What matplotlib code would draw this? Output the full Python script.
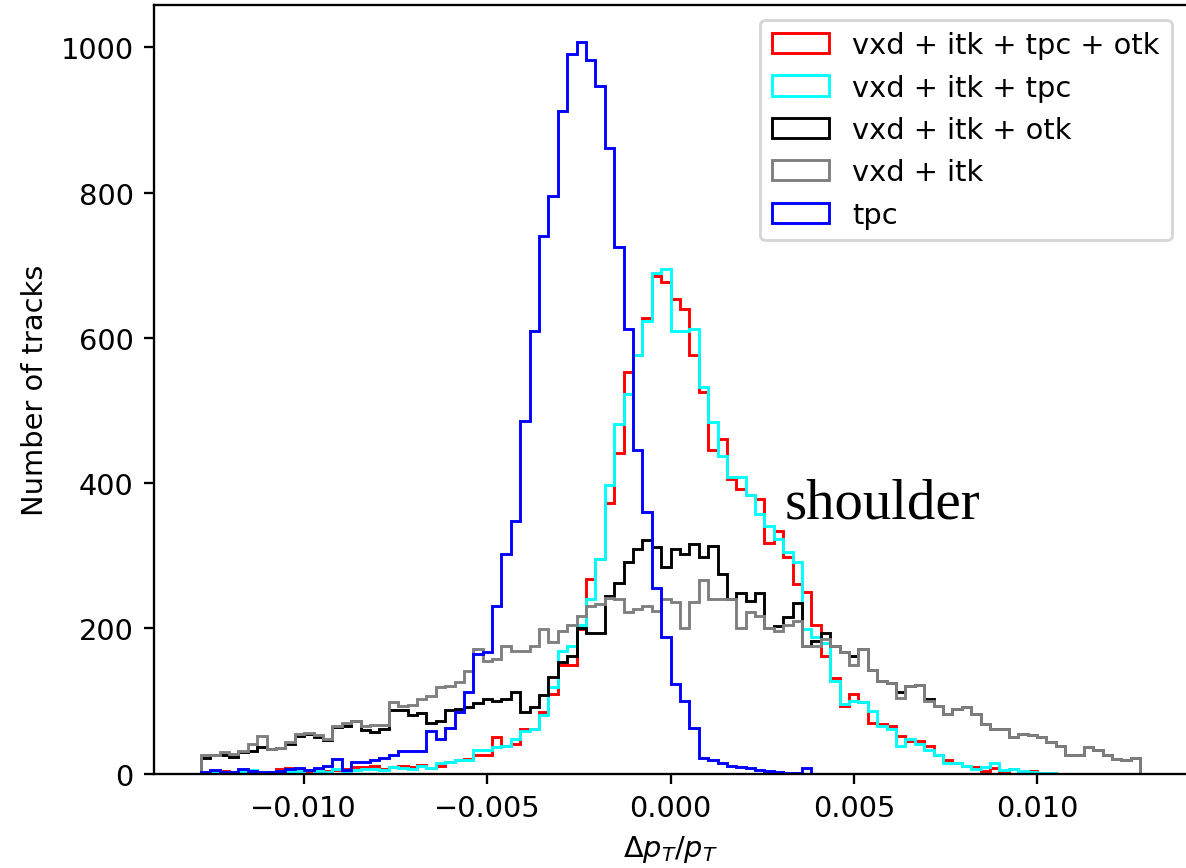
import numpy as np
import matplotlib
matplotlib.use("Agg")
import matplotlib.pyplot as plt

# histogram binning (100 bins)
edges = np.linspace(-0.0128, 0.0128, 101)

labels = ["vxd + itk + tpc + otk", "vxd + itk + tpc", "vxd + itk + otk", "vxd + itk", "tpc"]
colors = ["red", "cyan", "black", "gray", "blue"]

red = [2, 1, 3, 1, 3, 2, 1, 2, 6, 7,
       6, 3, 5, 4, 5, 6, 9, 9, 10, 6,
       9, 11, 9, 12, 8, 10, 16, 18, 20, 25,
       25, 50, 38, 40, 61, 61, 85, 109, 149, 149,
       199, 268, 295, 373, 442, 553, 576, 627, 685, 677,
       654, 640, 576, 525, 445, 461, 405, 392, 383, 378,
       318, 334, 298, 261, 250, 204, 162, 132, 93, 109,
       98, 70, 68, 66, 52, 45, 45, 38, 25, 18,
       15, 11, 9, 4, 8, 4, 6, 4, 3, 1,
       1, 0, 0, 0, 0, 0, 0, 0, 0, 0]

cyan = [1, 2, 1, 2, 4, 5, 2, 1, 2, 3,
        4, 5, 3, 2, 6, 3, 5, 6, 6, 5,
        9, 7, 6, 11, 8, 14, 16, 18, 18, 33,
        33, 36, 38, 48, 59, 62, 80, 119, 169, 176,
        204, 240, 295, 397, 481, 523, 576, 623, 690, 695,
        610, 610, 612, 532, 484, 438, 408, 408, 383, 358,
        341, 323, 305, 291, 199, 188, 180, 127, 96, 100,
        98, 86, 66, 61, 38, 47, 40, 32, 25, 15,
        15, 10, 6, 9, 15, 5, 6, 4, 2, 1,
        1, 0, 0, 0, 0, 0, 0, 0, 0, 0]

black = [22, 25, 25, 23, 30, 31, 36, 34, 35, 41,
         52, 54, 51, 46, 64, 65, 73, 60, 57, 62,
         87, 87, 80, 83, 70, 73, 87, 89, 92, 97,
         103, 100, 103, 112, 85, 92, 108, 133, 153, 162,
         200, 194, 194, 245, 263, 291, 309, 321, 312, 284,
         309, 302, 316, 298, 314, 275, 240, 249, 238, 249,
         201, 203, 215, 235, 176, 183, 194, 176, 167, 162,
         171, 143, 128, 125, 112, 121, 122, 103, 93, 82,
         89, 91, 82, 68, 61, 61, 50, 54, 53, 50,
         43, 38, 25, 25, 36, 32, 25, 20, 18, 22]

gray = [25, 26, 30, 27, 31, 40, 52, 34, 35, 43,
        54, 56, 53, 47, 66, 70, 73, 66, 67, 67,
        98, 93, 95, 102, 107, 119, 121, 126, 141, 172,
        155, 158, 176, 169, 169, 176, 199, 181, 197, 204,
        217, 231, 233, 242, 240, 222, 226, 231, 224, 240,
        236, 201, 236, 266, 240, 240, 240, 201, 222, 217,
        201, 197, 204, 210, 176, 176, 185, 176, 167, 150,
        171, 143, 128, 125, 104, 121, 122, 100, 93, 82,
        89, 91, 82, 68, 61, 61, 50, 54, 53, 50,
        43, 38, 25, 25, 36, 32, 25, 20, 18, 22]

blue = [2, 5, 2, 2, 6, 4, 2, 2, 4, 6,
        7, 5, 7, 11, 20, 5, 16, 16, 18, 22,
        25, 31, 31, 31, 59, 47, 63, 85, 112, 165,
        167, 231, 302, 348, 486, 610, 741, 796, 913, 991,
        1008, 983, 947, 862, 725, 612, 445, 360, 256, 188,
        123, 100, 63, 22, 18, 15, 11, 9, 7, 5,
        4, 2, 1, 1, 8, 0, 0, 0, 0, 0,
        0, 0, 0, 0, 0, 0, 0, 0, 0, 0,
        0, 0, 0, 0, 0, 0, 0, 0, 0, 0,
        0, 0, 0, 0, 0, 0, 0, 0, 0, 0]

series = [red, cyan, black, gray, blue]

DPI = 208
fig = plt.figure(figsize=(1186 / DPI, 869 / DPI), dpi=DPI)
# right spine sits just past the canvas edge, as in the cropped original
ax = fig.add_axes([0.1298, 0.1087, 0.8712, 0.8843])

centers = 0.5 * (edges[:-1] + edges[1:])
for vals, col, lab in zip(series, colors, labels):
    ax.hist(centers, bins=edges, weights=vals, histtype="step", color=col, label=lab)

ax.set_xlabel(r"$\Delta p_T/p_T$")
ax.set_ylabel("Number of tracks")
ax.legend(loc="upper right", bbox_to_anchor=(0.9988, 1.0))

ax.text(0.0031, 353, "shoulder", family="Liberation Serif", fontsize=19.7,
        va="baseline", ha="left")

fig.savefig("out.png", dpi=DPI)
